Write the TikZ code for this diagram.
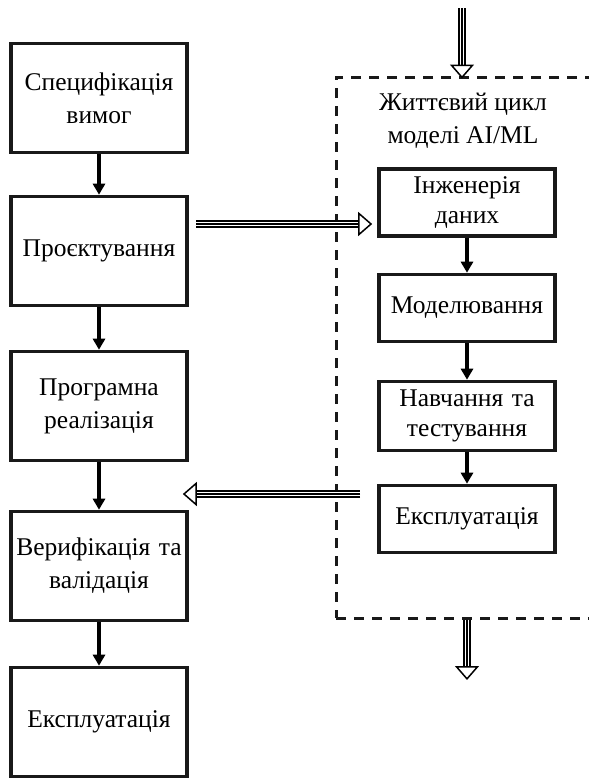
\documentclass[tikz,border=0pt]{standalone}
\usepackage{fontspec}
\setmainfont{Liberation Serif}
\usetikzlibrary{arrows.meta}

\tikzset{
    stage/.style={draw=black!90, line width=3.6pt, align=center, text width=172pt,
        minimum width=176pt, font=\fontsize{25.5}{33}\selectfont, inner sep=0pt},
    mlstage/.style={stage, font=\fontsize{25.5}{30}\selectfont},
    flow/.style={line width=3.4pt, -{Triangle[length=11pt,width=12pt]}},
    hand/.style={
        preaction={draw, double, double distance=4.4pt, line width=1.4pt, shorten >=12pt},
        postaction={draw, line width=1.3pt,
            -{Triangle[open, fill=white, length=14pt, width=24pt, line width=1.5pt]}}}
}

\begin{document}
\begin{tikzpicture}[x=1pt, y=-1pt]

    \useasboundingbox (0,0) rectangle (589,780);

    % software life cycle
    \node[stage, minimum height=109pt] (spec) at (99,98) {Специфікація\\вимог};
    \node[stage, minimum height=109pt] (design) at (99,251) {Проєктування};
    \node[stage, minimum height=109pt] (impl) at (99,406) {Програмна\\реалізація};
    \node[stage, minimum height=109pt] (verif) at (99,566) {Верифікація та\\валідація};
    \node[stage, minimum height=109pt] (ops) at (99,722) {Експлуатація};

    % AI/ML model life cycle
    \node[draw=black!90, line width=3pt, dash pattern=on 10pt off 8pt,
        minimum width=264pt, minimum height=541pt] (mlframe) at (468,347.5) {};
    \node[align=center, font=\fontsize{25.5}{33}\selectfont] (mltitle) at (463,121)
        {Життєвий цикл\\моделі AI/ML};

    \node[mlstage, minimum height=67pt] (data) at (467,202.5) {Інженерія\\даних};
    \node[mlstage, minimum height=67pt] (model) at (467,308) {Моделювання};
    \node[mlstage, minimum height=69pt] (train) at (467,416) {Навчання та\\тестування};
    \node[mlstage, minimum height=67pt] (mlops) at (467,519) {Експлуатація};

    \coordinate (mlin) at (462,8);
    \coordinate (mlout) at (467,680);
    \coordinate (handout) at (196,224);
    \coordinate (handback) at (360,494);

    \begin{scope}
        \draw[flow] (spec) -- (design);
        \draw[flow] (design) -- (impl);
        \draw[flow] (impl) -- (verif);
        \draw[flow] (verif) -- (ops);

        \draw[flow] (data) -- (model);
        \draw[flow] (model) -- (train);
        \draw[flow] (train) -- (mlops);
    \end{scope}

    \begin{scope}
        \path[hand] (mlin) -- ([yshift=-3pt]mlin |- mlframe.north);
        \path[hand] (mlout |- mlframe.south) -- (mlout);
        \path[hand] (handout) -- ([xshift=-5pt]handout -| data.west);
        \path[hand] (handback) -- ([xshift=-6pt]handback -| verif.east);
    \end{scope}

\end{tikzpicture}
\end{document}
